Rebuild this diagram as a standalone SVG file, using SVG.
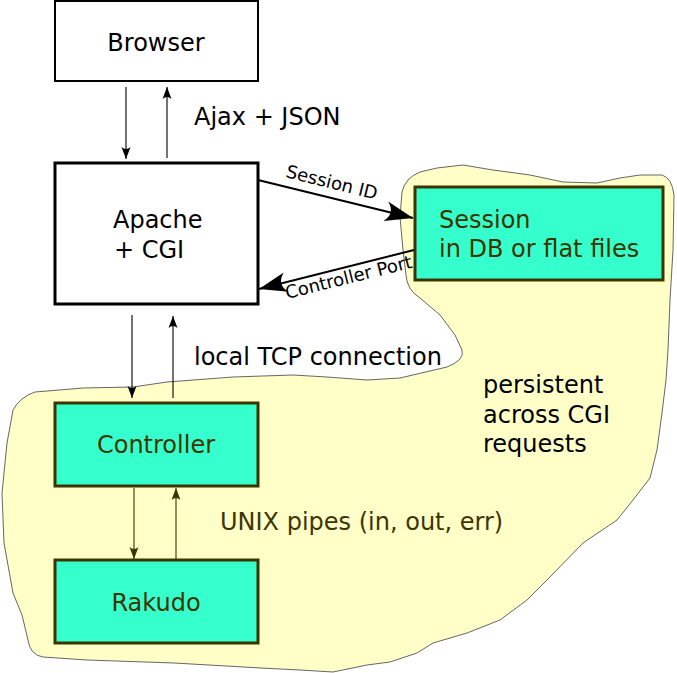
<svg xmlns="http://www.w3.org/2000/svg" width="677" height="673" viewBox="0 0 677 673">
<style>
  .t { font-family: "DejaVu Sans", "Liberation Sans", sans-serif; font-size: 24px; fill: #000; }
  .o { fill: #3d3500; }
  .lbl { font-family: "DejaVu Sans", "Liberation Sans", sans-serif; font-size: 18px; fill: #000; }
  .wbox { fill: #fff; stroke: #000; }
  .gbox { fill: #35ffcc; stroke: #3d3500; stroke-width: 3; }
  .thin { fill: none; stroke: #000; stroke-width: 1.1; }
  .thino { fill: none; stroke: #3d3500; stroke-width: 1.1; }
  .thick { fill: none; stroke: #000; stroke-width: 2; }
</style>
<defs>
  <marker id="ah" markerUnits="userSpaceOnUse" markerWidth="20" markerHeight="20" refX="0" refY="0" orient="auto" overflow="visible">
    <path d="M0,0 L-12,-4.5 Q-8,0 -12,4.5 Z" fill="#000"/>
  </marker>
  <marker id="aho" markerUnits="userSpaceOnUse" markerWidth="20" markerHeight="20" refX="0" refY="0" orient="auto" overflow="visible">
    <path d="M0,0 L-12,-4.5 Q-8,0 -12,4.5 Z" fill="#3d3500"/>
  </marker>
  <marker id="big" markerUnits="userSpaceOnUse" markerWidth="40" markerHeight="40" refX="0" refY="0" orient="auto" overflow="visible">
    <path d="M0,0 L-28,-10 Q-18,0 -28,10 Z" fill="#000"/>
  </marker>
</defs>

<g id="persistent-area">
  <path d="M402,192 Q405,178 420,172 L437,168 L463,165 L493,170 L530,175 L563,182 L597,183 L620,178 L640,175 L662,175 Q672,178 674,195 L673,250 L670,300 L668,350 L666,380 L662,413 L657,450 L650,478 L633,500 L617,520 L583,543 L550,577 L527,600 L500,620 L467,633 L433,643 L417,653 L390,662 L367,665 L333,672 L300,670 L261,668 L174,663 L87,660 L43,657 Q30,655 28,640 L22,615 L13,593 L4,543 L2,493 L7,443 L13,410 Q20,397 35,392 L83,388 L133,387 L167,382 L233,377 L293,375 L327,377 L367,380 L400,378 L447,367 Q465,360 462,350 L455,335 L440,315 L420,298 Q407,290 406,275 L403,250 L400,217 Z" fill="#ffffc8" stroke="#666" stroke-width="1"/>
  <text class="t" x="483" y="393">persistent</text>
  <text class="t" x="483" y="423">across CGI</text>
  <text class="t" x="483" y="452">requests</text>
</g>

<g id="browser">
  <rect class="wbox" x="55" y="1" width="203" height="80" stroke-width="2"/>
  <text class="t" x="156" y="51" text-anchor="middle">Browser</text>
</g>

<g id="apache">
  <rect class="wbox" x="55" y="163" width="203" height="141" stroke-width="3"/>
  <text class="t" x="113" y="228">Apache</text>
  <text class="t" x="114" y="258">+ CGI</text>
</g>

<g id="session">
  <rect class="gbox" x="415" y="187" width="248" height="93"/>
  <text class="t o" x="439" y="228">Session</text>
  <text class="t o" x="439" y="257">in DB or flat files</text>
</g>

<g id="controller">
  <rect class="gbox" x="55" y="403" width="203" height="83" stroke-width="2.5"/>
  <text class="t o" x="156" y="453" text-anchor="middle">Controller</text>
</g>

<g id="rakudo">
  <rect class="gbox" x="55" y="560" width="203" height="83" stroke-width="2.5"/>
  <text class="t o" x="156" y="611" text-anchor="middle">Rakudo</text>
</g>

<g id="connectors">
  <line class="thin" x1="126" y1="87" x2="126" y2="159" marker-end="url(#ah)"/>
  <line class="thin" x1="167" y1="158" x2="167" y2="87" marker-end="url(#ah)"/>
  <text class="t" x="194" y="125">Ajax + JSON</text>

  <line class="thick" x1="258" y1="180" x2="413" y2="218" marker-end="url(#big)"/>
  <text class="lbl" transform="translate(285,177) rotate(14)">Session ID</text>
  <line class="thick" x1="414" y1="250" x2="259" y2="289" marker-end="url(#big)"/>
  <text class="lbl" transform="translate(287,299) rotate(-14)">Controller Port</text>

  <line class="thin" x1="132" y1="315" x2="132" y2="398" marker-end="url(#ah)"/>
  <line class="thin" x1="173" y1="398" x2="173" y2="316" marker-end="url(#ah)"/>
  <text class="t" x="194" y="365">local TCP connection</text>

  <line class="thino" x1="134" y1="488" x2="134" y2="559" marker-end="url(#aho)"/>
  <line class="thino" x1="176" y1="559" x2="176" y2="488" marker-end="url(#aho)"/>
  <text class="t o" x="220" y="530">UNIX pipes (in, out, err)</text>
</g>
</svg>
